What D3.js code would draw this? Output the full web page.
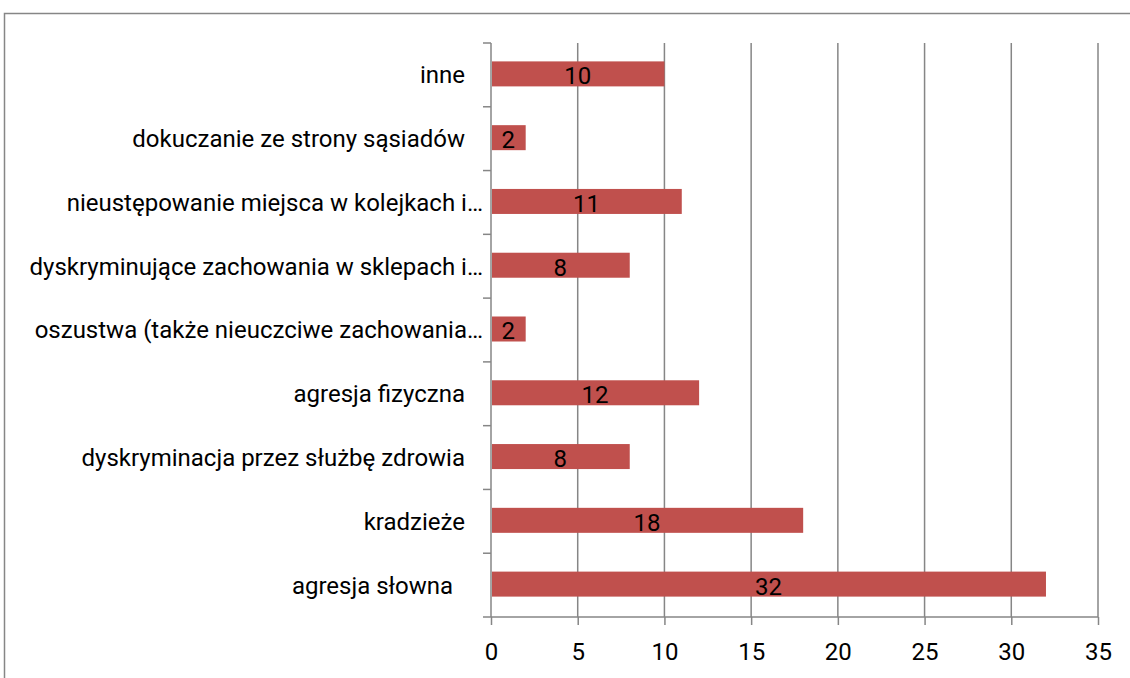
<!DOCTYPE html>
<html>
  <head>
    <script src="https://d3js.org/d3.v7.min.js"></script>
    <style>
      body { margin: 0; background: #fff; }
      svg text { font-family: Roboto, "Noto Sans", sans-serif; fill: #000; white-space: pre; }
    </style>
  </head>
  <body>
    <svg width="1130" height="678"></svg>
  </body>
  <script>
    // categories top to bottom, as in the chart
    const categories = [
      "inne",
      "dokuczanie ze strony sąsiadów",
      "nieustępowanie miejsca w kolejkach i…",
      "dyskryminujące zachowania w sklepach i…",
      "oszustwa (także nieuczciwe zachowania…",
      "agresja fizyczna",
      "dyskryminacja przez służbę zdrowia",
      "kradzieże",
      "agresja słowna  "
    ];
    const values = [10, 2, 11, 8, 2, 12, 8, 18, 32];
    const xTicks = [0, 5, 10, 15, 20, 25, 30, 35];

    const svg = d3.select('svg');
    const margin = { top: 43, left: 491, right: 32, bottom: 61 };
    const width = 1130, height = 678;
    const plotW = width - margin.left - margin.right;
    const plotH = height - margin.top - margin.bottom;
    const gray = '#868686';
    const fontSize = 24;

    // outer chart border
    svg.append('rect')
      .attr('x', 4.5).attr('y', 13.5)
      .attr('width', 1140).attr('height', 700)
      .attr('fill', 'none')
      .attr('stroke', gray)
      .attr('stroke-width', 1.5);

    const x = d3.scaleLinear().domain([0, 35]).range([0, plotW]);
    const y = d3.scaleBand().domain(categories).range([0, plotH]);

    const g = svg.append('g')
      .attr('transform', `translate(${margin.left},${margin.top})`);

    // vertical gridlines
    g.selectAll('line.grid').data(xTicks.slice(1))
      .enter().append('line')
        .attr('class', 'grid')
        .attr('x1', d => x(d)).attr('x2', d => x(d))
        .attr('y1', 0).attr('y2', plotH)
        .attr('stroke', gray).attr('stroke-width', 1.5);

    // x axis
    const xAxis = d3.axisBottom(x).tickValues(xTicks).tickSize(8).tickPadding(18);
    const xg = g.append('g').attr('transform', `translate(0,${plotH})`).call(xAxis);
    xg.select('.domain').attr('stroke', gray).attr('stroke-width', 1.5)
      .attr('d', `M0,0H${plotW}`);
    xg.selectAll('.tick line').attr('stroke', gray).attr('stroke-width', 1.5);
    xg.selectAll('.tick text').attr('font-size', fontSize).attr('font-family', 'Roboto, sans-serif');

    // y axis line with ticks at band boundaries
    g.append('line')
      .attr('x1', 0).attr('x2', 0).attr('y1', 0).attr('y2', plotH)
      .attr('stroke', gray).attr('stroke-width', 1.5);
    const bounds = d3.range(categories.length + 1).map(i => i * y.step());
    g.selectAll('line.ytick').data(bounds)
      .enter().append('line')
        .attr('class', 'ytick')
        .attr('x1', -8).attr('x2', 0)
        .attr('y1', d => d).attr('y2', d => d)
        .attr('stroke', gray).attr('stroke-width', 1.5);

    // category labels
    g.selectAll('text.cat').data(categories)
      .enter().append('text')
        .attr('class', 'cat')
        .attr('x', d => d.endsWith('…') ? -8 : -26)
        .attr('y', d => y(d) + y.bandwidth() / 2)
        .attr('dy', '0.35em')
        .attr('text-anchor', 'end')
        .attr('font-size', fontSize)
        .text(d => d);

    // bars
    const barH = 25;
    g.selectAll('rect.bar').data(values)
      .enter().append('rect')
        .attr('class', 'bar')
        .attr('x', 1)
        .attr('y', (d, i) => y(categories[i]) + y.bandwidth() / 2 - barH / 2 - 1)
        .attr('width', d => x(d) - 1)
        .attr('height', barH)
        .attr('fill', '#C0504D');

    // value labels
    g.selectAll('text.val').data(values)
      .enter().append('text')
        .attr('class', 'val')
        .attr('x', d => x(d) / 2)
        .attr('y', (d, i) => y(categories[i]) + y.bandwidth() / 2 + 1)
        .attr('dy', '0.35em')
        .attr('text-anchor', 'middle')
        .attr('font-size', fontSize)
        .text(d => d);
  </script>
</html>
